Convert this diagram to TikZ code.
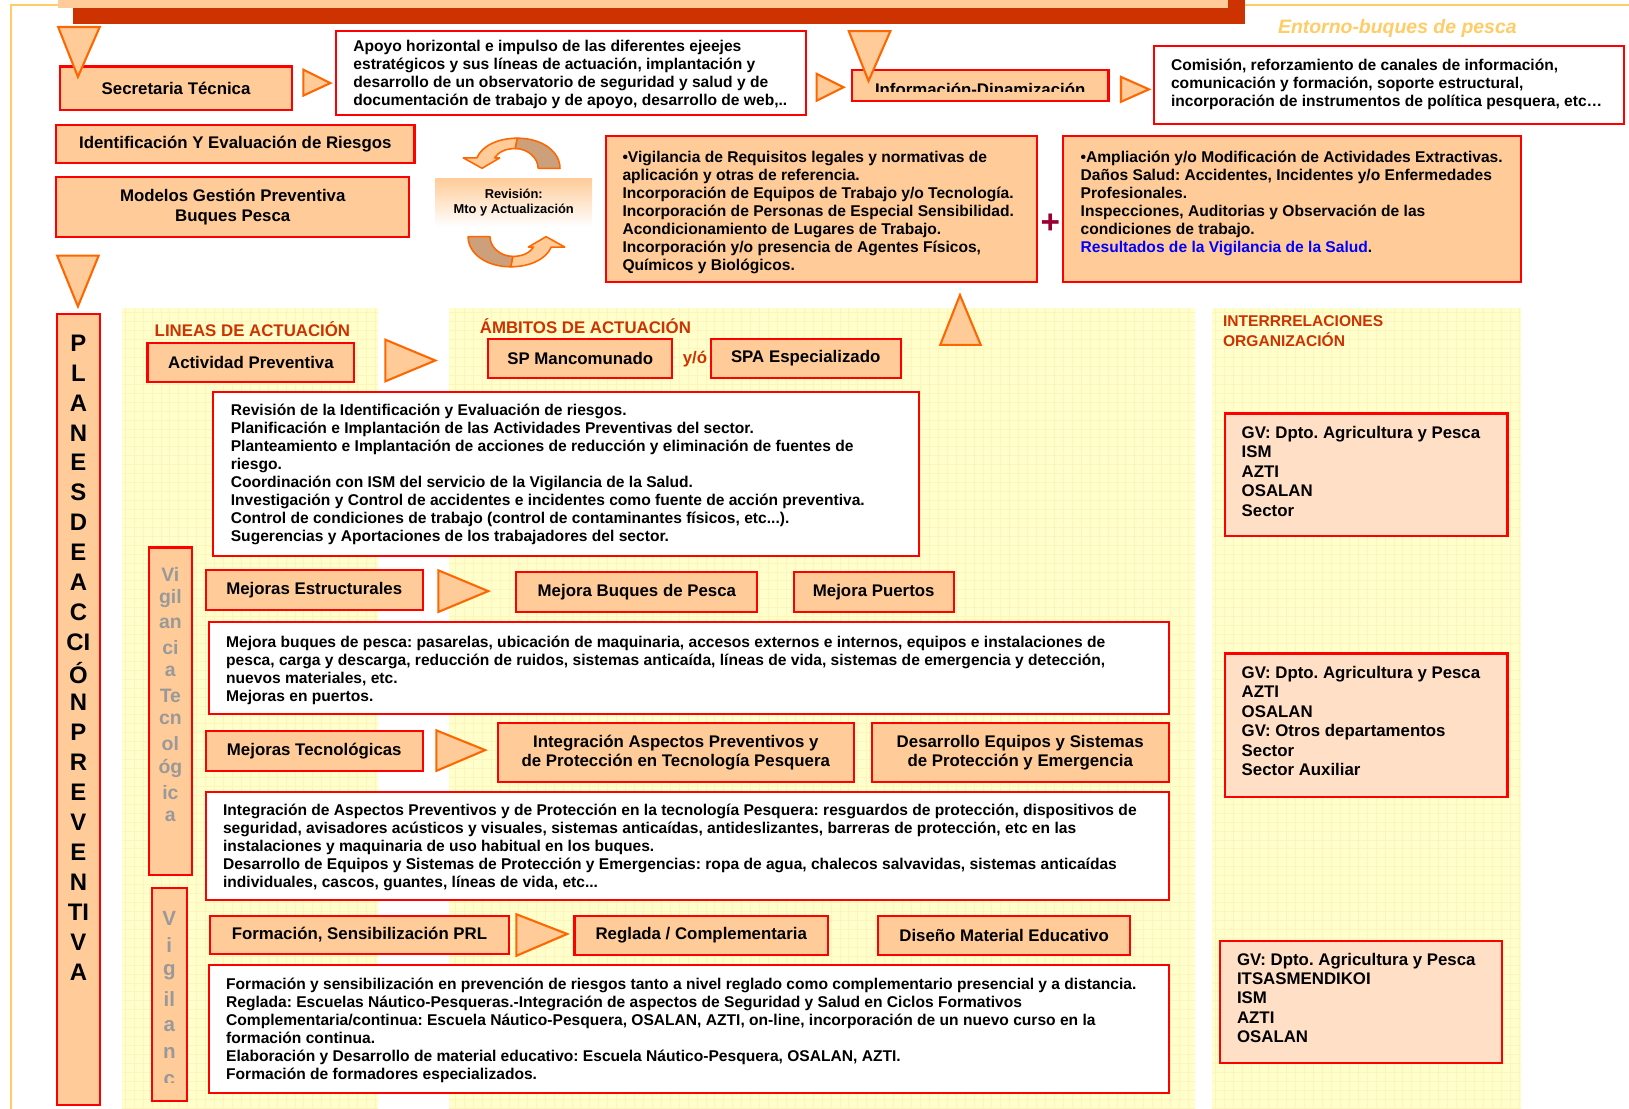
\documentclass[tikz,border=0pt]{standalone}
\usepackage{fontspec}
\setmainfont{Liberation Sans}
\frenchspacing

\definecolor{boxorange}{HTML}{FFCC99}
\definecolor{boxred}{HTML}{FF0000}
\definecolor{triorange}{HTML}{FF6600}
\definecolor{hdrred}{HTML}{CC3300}
\definecolor{panelyellow}{HTML}{FFFFCC}
\definecolor{gridyellow}{HTML}{FFF5BC}
\definecolor{framecol}{HTML}{FFCC66}
\definecolor{orgfill}{HTML}{FFDFC6}
\definecolor{viggray}{HTML}{999999}
\definecolor{tancol}{HTML}{CCA07A}
\definecolor{plusred}{HTML}{990033}
\definecolor{linkblue}{HTML}{0000FF}

\begin{document}
\begin{tikzpicture}[x=1pt, y=-1pt,
    lbl/.style={draw=boxred, line width=2pt, fill=boxorange, align=center, inner sep=0pt,
        font=\bfseries\fontsize{16.2}{19}\selectfont},
    wbox/.style={draw=boxred, line width=2pt, fill=white, inner sep=0pt},
    obox/.style={draw=boxred, line width=2pt, fill=boxorange, inner sep=0pt},
    orgbox/.style={draw=boxred, line width=2pt, fill=orgfill, inner sep=0pt},
    body/.style={anchor=north west, align=left, inner sep=0pt, font=\bfseries\fontsize{15}{17.3}\selectfont},
    orgtext/.style={anchor=north west, align=left, inner sep=0pt, font=\bfseries\fontsize{16.2}{18.7}\selectfont},
    hdr/.style={text=hdrred, inner sep=0pt, font=\bfseries\fontsize{16.2}{19}\selectfont},
    tri/.style={draw=triorange, fill=boxorange, line width=2pt, line join=miter},
    cyc/.style={draw=triorange, line width=1.5pt, line join=round},
    panel/.style={fill=panelyellow},
    gridline/.style={draw=gridyellow, line width=0.6pt},
    planletter/.style={inner sep=0pt, font=\bfseries\fontsize{23}{23}\selectfont},
    vigletter/.style={inner sep=0pt, text=viggray, font=\bfseries\fontsize{18.7}{18.7}\selectfont}]

    \useasboundingbox (0,0) rectangle (1568,1067);
    \clip (0,0) rectangle (1568,1067);

    % frame and title band
    \draw[framecol, line width=2pt] (11,1067) -- (11,5) -- (56,5);
    \draw[framecol, line width=2pt] (1198,5) -- (1568,5);
    \fill[hdrred] (70,-30) rectangle (1198,23);
    \fill[boxorange] (56,-40) rectangle (1182,7.7);
    \node[text=framecol, inner sep=0pt, font=\bfseries\itshape\fontsize{18.7}{20}\selectfont] at (1345,27) (entorno) {Entorno-buques de pesca};

    % yellow panels
    \fill[panel] (117,296) rectangle (364,1067);
    \fill[panel] (432,296) rectangle (1150,1067);
    \fill[panel] (1167,296) rectangle (1464,1067);
    \draw[gridline, step=8.6pt] (117,1067) grid (364,296);
    \draw[gridline, step=8.6pt] (432,1067) grid (1150,296);
    \draw[gridline, step=8.6pt] (1167,1067) grid (1464,296);

    % top rows
    \node[lbl, minimum width=223pt, minimum height=42pt] at (169.5,85) (sec) {Secretaria Técnica};
    \node[wbox, minimum width=453pt, minimum height=81pt] at (549.5,70.5) (apoyo) {};
    \node[body] at (340,37) (apoyoTxt) {\strut Apoyo horizontal e impulso de las diferentes ejeejes\\
        estratégicos y sus líneas de actuación, implantación y\\
        desarrollo de un observatorio de seguridad y salud y de\\
        documentación de trabajo y de apoyo, desarrollo de web,..};
    \node[obox, minimum width=247pt, minimum height=30pt] at (943.5,82) (info) {};
    \begin{scope}
        \clip (820,67) rectangle (1067,88.5);
        \node[lbl, draw=none, fill=none, anchor=base] at (943.5,91.6) (infoTxt) {Información-Dinamización};
    \end{scope}
    \node[wbox, minimum width=452pt, minimum height=75pt] at (1337,81.5) (comision) {};
    \node[body] at (1127,56) (comisionTxt) {\strut Comisión, reforzamiento de canales de información,\\
        comunicación y formación, soporte estructural,\\
        incorporación de instrumentos de política pesquera, etc…};

    \node[lbl, minimum width=345pt, minimum height=37pt] at (226.5,138.5) (ident) {Identificación Y Evaluación de Riesgos};
    \node[lbl, minimum width=340pt, minimum height=58pt] at (224,199) (modelos) {Modelos Gestión Preventiva\\Buques Pesca};

    % revision cycle
    \node[minimum width=151pt, minimum height=46pt, inner sep=0pt, top color=boxorange, bottom color=white] at (494.5,195) (revisionBox) {};
    \node[inner sep=0pt, align=center, font=\bfseries\fontsize{12.4}{15}\selectfont] at (494.5,195) (revisionTxt) {Revisión:\\Mto y Actualización};
    \foreach \r in {0,180} {
        \begin{scope}[rotate around={\r:(494.8,194.9)}]
            \filldraw[cyc, fill=boxorange] (498,133) .. controls (480,133) and (464,140) .. (459,152) -- (446,152) -- (464,162)
                -- (481,152) -- (476,152) .. controls (480,146) and (487,143) .. (496,143) -- cycle;
            \filldraw[cyc, fill=tancol] (498,133) .. controls (522,133) and (539,146) .. (539,162) -- (518,162)
                .. controls (518,152) and (508,143) .. (496,143) -- cycle;
        \end{scope}
    }

    \node[obox, minimum width=415pt, minimum height=140pt] at (790.5,201) (vigReq) {};
    \node[body] at (599,144) (vigReqTxt) {\strut •Vigilancia de Requisitos legales y normativas de\\
        aplicación y otras de referencia.\\
        Incorporación de Equipos de Trabajo y/o Tecnología.\\
        Incorporación de Personas de Especial Sensibilidad.\\
        Acondicionamiento de Lugares de Trabajo.\\
        Incorporación y/o presencia de Agentes Físicos,\\
        Químicos y Biológicos.};
    \node[text=plusred, inner sep=0pt, font=\bfseries\fontsize{32}{32}\selectfont] at (1011,215) (plus) {+};
    \node[obox, minimum width=441pt, minimum height=140pt] at (1243.5,201) (ampl) {};
    \node[body] at (1040,144) (amplTxt) {\strut •Ampliación y/o Modificación de Actividades Extractivas.\\
        Daños Salud: Accidentes, Incidentes y/o Enfermedades\\
        Profesionales.\\
        Inspecciones, Auditorias y Observación de las\\
        condiciones de trabajo.\\
        {\color{linkblue}Resultados de la Vigilancia de la Salud}.};

    % plan bar
    \node[obox, minimum width=41pt, minimum height=762pt] at (75.5,683) (plan) {};
    \foreach \l [count=\i from 0] in {P,L,A,N,E,S,D,E,A,C,CI,Ó,N,P,R,E,V,E,N,TI,V,A}
        \node[planletter] at (75.5,330+28.86*\i) (plan\i) {\l};

    % lineas / ambitos
    \node[hdr] at (243,317) (lineas) {LINEAS DE ACTUACIÓN};
    \node[lbl, minimum width=199pt, minimum height=38pt] at (241.5,349) (actividad) {Actividad Preventiva};
    \node[hdr] at (563.5,314) (ambitos) {ÁMBITOS DE ACTUACIÓN};
    \node[lbl, minimum width=177pt, minimum height=38pt] at (558.5,345) (spMan) {SP Mancomunado};
    \node[hdr] at (669,346) (yo) {y/ó};
    \node[lbl, minimum width=183pt, minimum height=38pt] at (775.5,345) (spaEsp) {SPA Especializado};
    \node[wbox, minimum width=680pt, minimum height=158pt] at (545,456) (revisionList) {};
    \node[body] at (222,388) (revisionListTxt) {\strut Revisión de la Identificación y Evaluación de riesgos.\\
        Planificación e Implantación de las Actividades Preventivas del sector.\\
        Planteamiento e Implantación de acciones de reducción y eliminación de fuentes de\\
        riesgo.\\
        Coordinación con ISM del servicio de la Vigilancia de la Salud.\\
        Investigación y Control de accidentes e incidentes como fuente de acción preventiva.\\
        Control de condiciones de trabajo (control de contaminantes físicos, etc...).\\
        Sugerencias y Aportaciones de los trabajadores del sector.};

    % vigilancia bars
    \node[obox, minimum width=42pt, minimum height=315pt] at (164,684.5) (vigTec) {};
    \foreach \l [count=\i from 0] in {Vi,gil,an,ci,a,Te,cn,ol,óg,ic,a}
        \node[vigletter] at (164,553+23.3*\i) (vigTec\i) {\l};
    \node[obox, minimum width=34pt, minimum height=205pt] at (163,957.5) (vigSec) {};
    \begin{scope}
        \clip (146,855) rectangle (180,1042);
        \foreach \l [count=\i from 0] in {V,i,g,il,a,n,c}
            \node[vigletter, font=\bfseries\fontsize{19.8}{19.8}\selectfont] at (163,884+26*\i) (vigSec\i) {\l};
    \end{scope}

    % mejoras estructurales
    \node[lbl, minimum width=209pt, minimum height=38pt] at (302.5,568) (mejEst) {Mejoras Estructurales};
    \node[lbl, minimum width=232pt, minimum height=38pt] at (613,570) (mejBuq) {Mejora Buques de Pesca};
    \node[lbl, minimum width=154pt, minimum height=38pt] at (841,570) (mejPue) {Mejora Puertos};
    \node[wbox, minimum width=924pt, minimum height=88pt] at (663,643) (mejList) {};
    \node[body] at (217.5,611) (mejListTxt) {\strut Mejora buques de pesca: pasarelas, ubicación de maquinaria, accesos externos e internos, equipos e instalaciones de\\
        pesca, carga y descarga, reducción de ruidos, sistemas anticaída, líneas de vida, sistemas de emergencia y detección,\\
        nuevos materiales, etc.\\
        Mejoras en puertos.};

    % mejoras tecnologicas
    \node[lbl, minimum width=209pt, minimum height=38pt] at (302.5,723) (mejTec) {Mejoras Tecnológicas};
    \node[lbl, minimum width=343pt, minimum height=57pt] at (650.5,724.5) (intAsp) {Integración Aspectos Preventivos y\\de Protección en Tecnología Pesquera};
    \node[lbl, minimum width=286pt, minimum height=57pt] at (982,724.5) (desEq) {Desarrollo Equipos y Sistemas\\de Protección y Emergencia};
    \node[wbox, minimum width=927pt, minimum height=104pt] at (661.5,814) (intList) {};
    \node[body] at (214.5,773) (intListTxt) {\strut Integración de Aspectos Preventivos y de Protección en la tecnología Pesquera: resguardos de protección, dispositivos de\\
        seguridad, avisadores acústicos y visuales, sistemas anticaídas, antideslizantes, barreras de protección, etc en las\\
        instalaciones y maquinaria de uso habitual en los buques.\\
        Desarrollo de Equipos y Sistemas de Protección y Emergencias: ropa de agua, chalecos salvavidas, sistemas anticaídas\\
        individuales, cascos, guantes, líneas de vida, etc...};

    % formacion
    \node[lbl, minimum width=288pt, minimum height=36pt] at (346,900) (forPrl) {Formación, Sensibilización PRL};
    \node[lbl, minimum width=244pt, minimum height=37pt] at (675,900.5) (reglada) {Reglada / Complementaria};
    \node[lbl, minimum width=243pt, minimum height=37pt] at (966.5,900.5) (disenio) {Diseño Material Educativo};
    \node[wbox, minimum width=924pt, minimum height=123pt] at (663,990.5) (forList) {};
    \node[body] at (217.5,940) (forListTxt) {\strut Formación y sensibilización en prevención de riesgos tanto a nivel reglado como complementario presencial y a distancia.\\
        Reglada: Escuelas Náutico-Pesqueras.-Integración de aspectos de Seguridad y Salud en Ciclos Formativos\\
        Complementaria/continua: Escuela Náutico-Pesquera, OSALAN, AZTI, on-line, incorporación de un nuevo curso en la\\
        formación continua.\\
        Elaboración y Desarrollo de material educativo: Escuela Náutico-Pesquera, OSALAN, AZTI.\\
        Formación de formadores especializados.};

    % interrelaciones
    \node[hdr, anchor=north west, align=left, font=\bfseries\fontsize{15}{16.5}\selectfont] at (1177,303) (interrel) {\strut INTERRRELACIONES\\ORGANIZACIÓN};
    \node[orgbox, minimum width=272pt, minimum height=118pt] at (1315,457) (org1) {};
    \node[orgtext] at (1195,408.7) (org1Txt) {\strut GV: Dpto. Agricultura y Pesca\\ISM\\AZTI\\OSALAN\\Sector};
    \node[orgbox, minimum width=272pt, minimum height=138pt] at (1315,698) (org2) {};
    \node[orgtext] at (1195,639.7) (org2Txt) {\strut GV: Dpto. Agricultura y Pesca\\AZTI\\OSALAN\\GV: Otros departamentos\\Sector\\Sector Auxiliar};
    \node[orgbox, minimum width=272pt, minimum height=117pt] at (1310,964.5) (org3) {};
    \node[orgtext] at (1190.5,915.7) (org3Txt) {\strut GV: Dpto. Agricultura y Pesca\\ITSASMENDIKOI\\ISM\\AZTI\\OSALAN};

    % triangles
    \draw[tri] (56,26) -- (96,26) -- (75,74) -- cycle;
    \draw[tri] (817,30) -- (857,30) -- (836,78) -- cycle;
    \draw[tri] (55,246) -- (95,246) -- (75,295) -- cycle;
    \draw[tri] (905,332) -- (944,332) -- (924,284) -- cycle;
    \draw[tri] (292,67) -- (318,80) -- (292,92) -- cycle;
    \draw[tri] (786,71) -- (812,84) -- (786,97) -- cycle;
    \draw[tri] (1079,74) -- (1106,86) -- (1079,98) -- cycle;
    \draw[tri] (371,327) -- (419,347) -- (371,367) -- cycle;
    \draw[tri] (422,549) -- (470,569) -- (422,589) -- cycle;
    \draw[tri] (420,703) -- (467,722) -- (420,742) -- cycle;
    \draw[tri] (497,880) -- (546,899) -- (497,920) -- cycle;
\end{tikzpicture}
\end{document}
